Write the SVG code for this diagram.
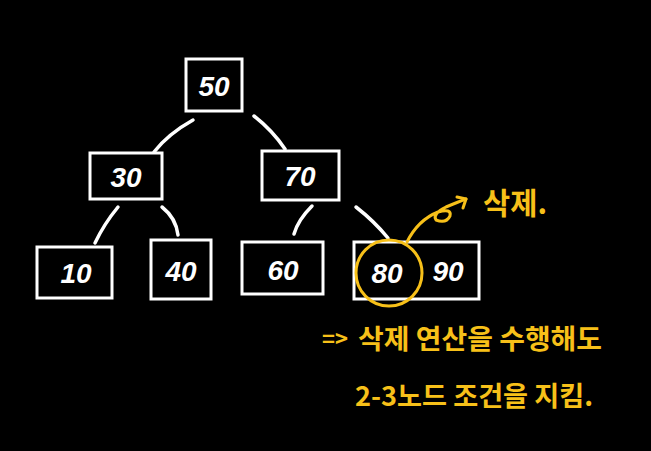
<svg xmlns="http://www.w3.org/2000/svg" width="651" height="451" viewBox="0 0 651 451">
<style>
.box{fill:none;stroke:#fff;stroke-width:3}
.num{fill:#fff;font-family:"Liberation Sans","DejaVu Sans",sans-serif;font-size:28px;font-style:italic;font-weight:bold;text-anchor:middle}
.edge{fill:none;stroke:#fff;stroke-width:3.5;stroke-linecap:round}
.ann{fill:#f7c019;font-family:"Noto Sans CJK KR","Noto Sans",sans-serif;font-weight:bold}
.yl{fill:none;stroke:#f7c019;stroke-width:3;stroke-linecap:round;stroke-linejoin:round}
</style>
<rect width="651" height="451" fill="#000"/>
<g id="connectors">
<path class="edge" d="M193,120 Q168,134 154,152"/>
<path class="edge" d="M254,116 Q272,130 285,149"/>
<path class="edge" d="M118,207 Q104,224 95,243"/>
<path class="edge" d="M162,207 Q176,218 178,235"/>
<path class="edge" d="M312,206 Q298,220 294,234"/>
<path class="edge" d="M356,207 Q374,221 388,238"/>
</g>
<g id="n50"><rect class="box" x="186" y="59" width="56" height="52"/><text class="num" x="214" y="96">50</text></g>
<g id="n30"><rect class="box" x="90" y="153" width="72" height="46"/><text class="num" x="126" y="187">30</text></g>
<g id="n70"><rect class="box" x="262" y="151" width="77" height="49"/><text class="num" x="300" y="186">70</text></g>
<g id="n10"><rect class="box" x="37" y="247" width="75" height="51"/><text class="num" x="76" y="283">10</text></g>
<g id="n40"><rect class="box" x="151" y="240" width="60" height="59"/><text class="num" x="181" y="281">40</text></g>
<g id="n60"><rect class="box" x="242" y="242" width="81" height="52"/><text class="num" x="283" y="280">60</text></g>
<g id="n8090"><rect class="box" x="354" y="242" width="125" height="57"/><text class="num" x="387" y="283">80</text><text class="num" x="448" y="281">90</text></g>
<g id="annotation">
<circle class="yl" cx="389" cy="273" r="33"/>
<path class="yl" d="M407,242 Q418,220 438,212 Q452,208 450,216 Q446,224 436,220 Q432,214 446,207 Q458,202 466,199"/>
<path class="yl" d="M457,197 L466,199 L463,208"/>
<text class="ann" x="483" y="214" font-size="30" textLength="64" lengthAdjust="spacingAndGlyphs">삭제.</text>
<text class="ann" x="322" y="347" font-size="22">=&gt;</text>
<text class="ann" x="358" y="349" font-size="27" textLength="244" lengthAdjust="spacingAndGlyphs">삭제 연산을 수행해도</text>
<text class="ann" x="355" y="406" font-size="27" textLength="238" lengthAdjust="spacingAndGlyphs">2-3노드 조건을 지킴.</text>
</g>
</svg>
